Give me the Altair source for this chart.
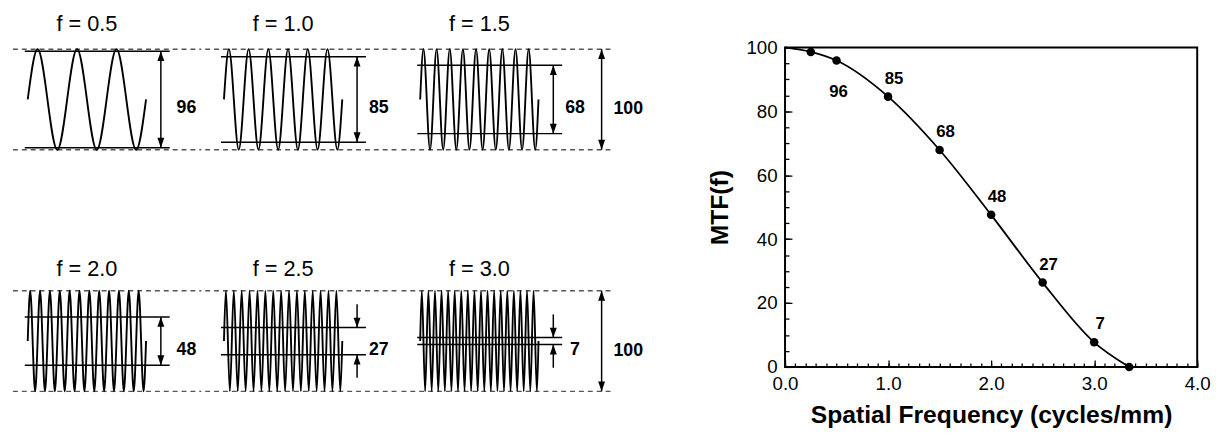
import altair as alt
import pandas as pd

FONT = "Liberation Sans"

# ---------------- data ----------------
freqs = [0.5, 1.0, 1.5, 2.0, 2.5, 3.0]          # cycles/mm of each test pattern
mtf_pct = [96, 85, 68, 48, 27, 7]               # measured modulation (%)
pattern_len_mm = 6.0                            # length of each bar pattern
full_scale = 100                                # input modulation (%)

curve_f = [0.0, 0.25, 0.5, 1.0, 1.5, 2.0, 2.5, 3.0, 3.34]
curve_mtf = [100, 98.6, 95.9, 84.6, 67.9, 47.6, 26.4, 7.7, 0]
point_f = [0.25, 0.5, 1.0, 1.5, 2.0, 2.5, 3.0, 3.34]
point_mtf = [98.6, 95.9, 84.6, 67.9, 47.6, 26.4, 7.7, 0]
label_f = [0.5, 1.0, 1.5, 2.0, 2.5, 3.0]
label_mtf = [95.9, 84.6, 67.9, 47.6, 26.4, 7.7]
label_text = ["96", "85", "68", "48", "27", "7"]

x_tick_labels = [0, 1, 2, 3, 4]
y_tick_labels = [0, 20, 40, 60, 80, 100]
x_minor = [i / 10 for i in range(41)]
y_minor = [i * 5 for i in range(21)]

HEAD_UP = "M0,0 L-0.35,1 L0.35,1 Z"
HEAD_DOWN = "M0,0 L-0.35,-1 L0.35,-1 Z"

NO_STROKE = alt.ViewBackground(stroke="transparent")


def panel(i):
    f = freqs[i]
    m = mtf_pct[i]
    col = i % 3
    top_row = i < 3
    last = col == 2
    xdom = [-0.95, 11.5] if last else [-0.95, 8.8]
    ydom = [-98, 137] if top_row else [-30, 140]
    w = (xdom[1] - xdom[0]) * 20
    h = (ydom[1] - ydom[0]) * 1.02
    xs = alt.Scale(domain=xdom, nice=False, zero=False)
    ys = alt.Scale(domain=ydom, nice=False, zero=False)

    def X(field):
        return alt.X(field, type="quantitative", scale=xs, axis=None)

    def Y(field):
        return alt.Y(field, type="quantitative", scale=ys, axis=None)

    # dashed 0 / 100 % reference lines
    x_start = -0.75 if col == 0 else -0.95
    x_end = 9.8 if last else xdom[1]
    dash_df = pd.DataFrame({"x": [x_start, x_start], "x2": [x_end, x_end],
                            "y": [0, full_scale]})
    dashed = alt.Chart(dash_df).mark_rule(strokeDash=[5, 4], color="#555",
                                          strokeWidth=1.5).encode(
        x=X("x"), x2="x2", y=Y("y"))

    # test pattern: alternating maxima / minima, library interpolates
    n = int(round(2 * f * pattern_len_mm))
    wx = [0.0] + [(0.25 + 0.5 * k) / f for k in range(n)] + [pattern_len_mm]
    wy = [50] + [full_scale if k % 2 == 0 else 0 for k in range(n)] + [50]
    wave_df = pd.DataFrame({"x": wx, "y": wy})
    wave = alt.Chart(wave_df).mark_line(interpolate="monotone", color="black",
                                        strokeWidth=1.9).encode(
        x=X("x"), y=Y("y"))

    # MTF envelope lines
    lo, hi = 50 - m / 2, 50 + m / 2
    env_df = pd.DataFrame({"x": [-0.15, -0.15], "x2": [7.2, 7.2], "y": [lo, hi]})
    env = alt.Chart(env_df).mark_rule(color="black", strokeWidth=1.5).encode(
        x=X("x"), x2="x2", y=Y("y"))

    # arrows
    ax = 6.75
    seg_x, seg_y, seg_y2, hx, hy, hs = [], [], [], [], [], []
    if m >= 40:
        seg_x += [ax]; seg_y += [lo]; seg_y2 += [hi]
        hx += [ax, ax]; hy += [hi, lo]; hs += [HEAD_UP, HEAD_DOWN]
    else:
        seg_x += [ax, ax]; seg_y += [hi, lo - 23]; seg_y2 += [hi + 23, lo]
        hx += [ax, ax]; hy += [hi, lo]; hs += [HEAD_DOWN, HEAD_UP]
    texts_x, texts_y, texts = [8.05 if col == 0 else 7.85], [41], [str(m)]
    if last:
        seg_x += [9.2]; seg_y += [0]; seg_y2 += [full_scale]
        hx += [9.2, 9.2]; hy += [full_scale, 0]; hs += [HEAD_UP, HEAD_DOWN]
        texts_x += [10.55]; texts_y += [40]; texts += [str(full_scale)]
    seg_df = pd.DataFrame({"x": seg_x, "y": seg_y, "y2": seg_y2})
    segs = alt.Chart(seg_df).mark_rule(color="black", strokeWidth=1.5).encode(
        x=X("x"), y=Y("y"), y2="y2")
    head_df = pd.DataFrame({"x": hx, "y": hy, "s": hs})
    heads = alt.Chart(head_df).mark_point(filled=True, color="black", opacity=1,
                                          size=400, strokeWidth=0).encode(
        x=X("x"), y=Y("y"), shape=alt.Shape("s:N", scale=None))

    lab_df = pd.DataFrame({"x": texts_x, "y": texts_y, "t": texts})
    labs = alt.Chart(lab_df).mark_text(font=FONT, fontSize=18, fontWeight="bold",
                                       color="black", baseline="middle").encode(
        x=X("x"), y=Y("y"), text="t:N")

    title_df = pd.DataFrame({"x": [pattern_len_mm / 2],
                             "y": [124.5 if top_row else 122],
                             "t": ["f = %.1f" % f]})
    ttl = alt.Chart(title_df).mark_text(font=FONT, fontSize=22, color="black",
                                        baseline="middle").encode(
        x=X("x"), y=Y("y"), text="t:N")

    return alt.layer(dashed, wave, env, segs, heads, labs, ttl).properties(
        width=w, height=h, view=NO_STROKE)


row1 = alt.hconcat(panel(0), panel(1), panel(2), spacing=0)
row2 = alt.hconcat(panel(3), panel(4), panel(5), spacing=0)
left = alt.vconcat(row1, row2, spacing=0)

# ---------------- right chart ----------------
W, H = 418, 324
xsr = alt.Scale(domain=[0, 4], nice=False, zero=False)
ysr = alt.Scale(domain=[0, 100], nice=False, zero=False)

curve_df = pd.DataFrame({"f": curve_f, "mtf": curve_mtf})
pts_df = pd.DataFrame({"f": point_f, "mtf": point_mtf})
lab_df = pd.DataFrame({"f": label_f, "mtf": label_mtf, "t": label_text})

main_x_axis = alt.Axis(orient="bottom", values=x_tick_labels, format=".1f",
                       labelFlush=False, ticks=False, domain=False, grid=False,
                       labelFontSize=19, labelPadding=8, labelColor="black",
                       labelFont=FONT, title="Spatial Frequency (cycles/mm)",
                       titleFont=FONT, titleFontSize=25, titleFontWeight="bold",
                       titleColor="black", titlePadding=9)
main_y_axis = alt.Axis(orient="left", values=y_tick_labels, labelFlush=False,
                       ticks=False, domain=False, grid=False, labelFontSize=19,
                       labelPadding=8, labelColor="black", labelFont=FONT,
                       title="MTF(f)", titleFont=FONT, titleFontSize=25,
                       titleFontWeight="bold", titleColor="black",
                       titleX=-66, titleY=H / 2, titleBaseline="middle",
                       titleAngle=270)


def tick_axis_x(vals, size):
    return alt.Axis(orient="top", offset=-H, values=vals, labels=False,
                    domain=False, grid=False, ticks=True, tickSize=size,
                    tickColor="black", tickWidth=1.3, title=None)


def tick_axis_y(vals, size):
    return alt.Axis(orient="right", offset=-W, values=vals, labels=False,
                    domain=False, grid=False, ticks=True, tickSize=size,
                    tickColor="black", tickWidth=1.3, title=None)


line = alt.Chart(curve_df).mark_line(interpolate="monotone", color="black",
                                     strokeWidth=1.8).encode(
    x=alt.X("f:Q", scale=xsr, axis=main_x_axis),
    y=alt.Y("mtf:Q", scale=ysr, axis=main_y_axis))

pts = alt.Chart(pts_df).mark_circle(size=75, color="black", opacity=1).encode(
    x=alt.X("f:Q", scale=xsr, axis=tick_axis_x(x_minor, 4)),
    y=alt.Y("mtf:Q", scale=ysr, axis=tick_axis_y(y_minor, 4)))

labs_above = alt.Chart(lab_df).transform_filter("datum.t != '96'").mark_text(
    font=FONT, fontSize=17, fontWeight="bold", color="black", dx=6, dy=-18,
    baseline="middle").encode(
    x=alt.X("f:Q", scale=xsr, axis=tick_axis_x(x_tick_labels, 7)),
    y=alt.Y("mtf:Q", scale=ysr, axis=tick_axis_y(y_tick_labels, 7)),
    text="t:N")

labs_below = alt.Chart(lab_df).transform_filter("datum.t == '96'").mark_text(
    font=FONT, fontSize=17, fontWeight="bold", color="black", dx=2, dy=32,
    baseline="middle").encode(
    x=alt.X("f:Q", scale=xsr, axis=None),
    y=alt.Y("mtf:Q", scale=ysr, axis=None),
    text="t:N")

right = alt.layer(line, pts, labs_above, labs_below).resolve_axis(
    x="independent", y="independent").properties(
    width=W, height=H, view=alt.ViewBackground(stroke="black", strokeWidth=2))

# empty band above the MTF plot so its frame starts lower than the figure titles
blank = alt.Chart(pd.DataFrame({"f": [0]})).mark_point(opacity=0).encode(
    x=alt.value(W / 2), y=alt.value(12)).properties(width=W, height=25,
                                                     view=NO_STROKE)

right_col = alt.vconcat(blank, right, spacing=0)

chart = alt.hconcat(left, right_col, spacing=60).properties(
    padding=0, background="white").configure(font=FONT).configure_view(
    stroke="transparent")

chart.save("out.html", embed_options={"renderer": "svg", "actions": False})
